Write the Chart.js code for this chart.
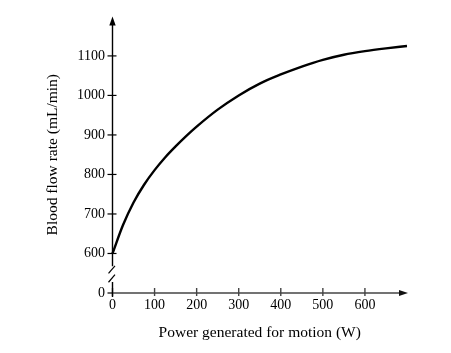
<!DOCTYPE html>
<html><head><meta charset="utf-8">
<script src="https://cdn.jsdelivr.net/npm/chart.js@4.4.1/dist/chart.umd.min.js"></script>
<style>html,body{margin:0;padding:0;background:#fff;}canvas{display:block;}</style>
</head><body>
<canvas id="c" width="451" height="353"></canvas>
<script>
// ---- data ----
const powerW    = [0, 25, 50, 75, 100, 125, 150, 175, 200, 250, 300, 350, 400, 450, 500, 550, 600, 650, 700];
const bloodFlow = [600, 672, 729, 774, 811, 843, 871, 897, 921, 964, 1000, 1030, 1053, 1073, 1090, 1103, 1112, 1119, 1125];
const xTickValues = [0, 100, 200, 300, 400, 500, 600];
const yTickValues = [0, 600, 700, 800, 900, 1000, 1100];
const xTitle = 'Power generated for motion (W)';
const yTitle = 'Blood flow rate (mL/min)';
const yZeroDrawnAt = 500;   // axis break: the "0" tick sits one step below 600

const FONT = 'Liberation Serif, Times New Roman, serif';
const yPos = v => (v === 0 ? yZeroDrawnAt : v);

const axesPlugin = {
  id: 'axes',
  beforeDatasetsDraw(chart) {
    const {ctx, scales: {x, y}} = chart;
    const ax = x.getPixelForValue(0);
    const ay = y.getPixelForValue(yZeroDrawnAt);
    const xEnd = x.getPixelForValue(700);
    const yTop = y.getPixelForValue(1200);
    ctx.save();
    ctx.lineCap = 'butt';
    // x axis
    ctx.strokeStyle = '#444'; ctx.fillStyle = '#111'; ctx.lineWidth = 1.4;
    ctx.beginPath(); ctx.moveTo(ax, ay); ctx.lineTo(xEnd - 5, ay); ctx.stroke();
    ctx.beginPath(); ctx.moveTo(xEnd + 1, ay); ctx.lineTo(xEnd - 8, ay - 3); ctx.lineTo(xEnd - 8, ay + 3); ctx.closePath(); ctx.fill();
    xTickValues.forEach(v => {
      const px = x.getPixelForValue(v);
      ctx.beginPath(); ctx.moveTo(px, ay - 5); ctx.lineTo(px, ay + 3); ctx.stroke();
    });
    // y axis with break
    ctx.strokeStyle = '#000'; ctx.fillStyle = '#000'; ctx.lineWidth = 1.4;
    const brTop = y.getPixelForValue(568), brBot = y.getPixelForValue(528);
    ctx.beginPath();
    ctx.moveTo(ax, ay + 4); ctx.lineTo(ax, brBot);
    ctx.moveTo(ax, brTop); ctx.lineTo(ax, yTop + 6);
    ctx.stroke();
    ctx.beginPath(); ctx.moveTo(ax, yTop); ctx.lineTo(ax - 3.2, yTop + 9); ctx.lineTo(ax + 3.2, yTop + 9); ctx.closePath(); ctx.fill();
    // break slashes
    ctx.lineWidth = 1.2;
    [brTop + 3.5, brBot - 3.5].forEach(cy => {
      ctx.beginPath(); ctx.moveTo(ax - 4, cy + 3.8); ctx.lineTo(ax + 2.5, cy - 3.8); ctx.stroke();
    });
    yTickValues.forEach(v => {
      const py = y.getPixelForValue(yPos(v));
      ctx.beginPath(); ctx.moveTo(ax - 5, py); ctx.lineTo(v === 0 ? ax : ax + 4, py); ctx.stroke();
    });
    ctx.restore();
  }
};

new Chart(document.getElementById('c'), {
  type: 'line',
  data: {
    datasets: [{
      data: powerW.map((p, i) => ({x: p, y: bloodFlow[i]})),
      borderColor: '#000', borderWidth: 2.4, pointRadius: 0,
      cubicInterpolationMode: 'monotone', fill: false, clip: false
    }]
  },
  options: {
    responsive: false, animation: false, devicePixelRatio: 1,
    layout: {padding: {top: 16.4, right: 44, bottom: 0, left: 0}},
    plugins: {legend: {display: false}, tooltip: {enabled: false}},
    scales: {
      x: {
        type: 'linear', min: 0, max: 700,
        grid: {display: false, drawTicks: false}, border: {display: false},
        afterBuildTicks: s => { s.ticks = xTickValues.map(v => ({value: v})); },
        afterFit: s => { s.height = 60; },
        ticks: {font: {family: FONT, size: 14}, color: '#000', padding: 4, autoSkip: false, maxRotation: 0,
                callback: v => String(v)},
        title: {display: true, text: xTitle, color: '#000', font: {family: FONT, size: 15.5},
                padding: {top: 0, bottom: 11}}
      },
      y: {
        type: 'linear', min: 500, max: 1200,
        grid: {display: false, drawTicks: false}, border: {display: false},
        afterBuildTicks: s => { s.ticks = yTickValues.map(v => ({value: yPos(v)})); },
        afterFit: s => { s.width = 112.5; },
        ticks: {font: {family: FONT, size: 14}, color: '#000', padding: 7.5, autoSkip: false,
                callback: v => (v === yZeroDrawnAt ? '0' : String(v))},
        title: {display: true, text: yTitle, color: '#000', font: {family: FONT, size: 15.5},
                padding: {top: 44, bottom: 0}}
      }
    }
  },
  plugins: [axesPlugin]
});
</script>
</body></html>
